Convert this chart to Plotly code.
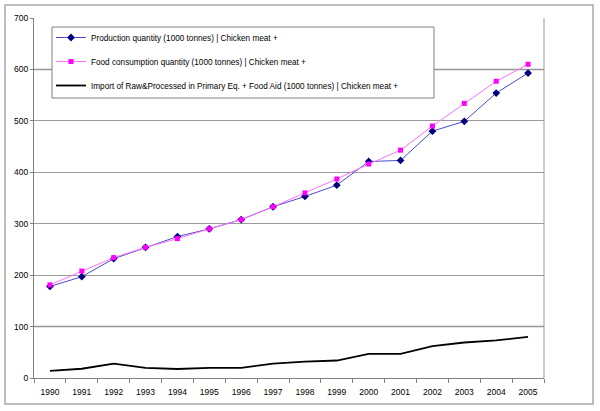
import plotly.graph_objects as go

years = [str(y) for y in range(1990, 2006)]
production = [178, 197, 232, 254, 275, 290, 308, 333, 353, 375, 421, 423, 480, 499, 554, 593]
food = [181, 208, 234, 254, 271, 290, 308, 333, 360, 387, 416, 443, 490, 534, 577, 610]
imports = [14, 18, 28, 19.5, 17.5, 19.5, 19.5, 28, 32, 34, 47, 47, 62, 69, 73, 80]

names = [
    "Production quantity (1000 tonnes) | Chicken meat +",
    "Food consumption quantity (1000 tonnes) | Chicken meat +",
    "Import of Raw&Processed in Primary Eq. + Food Aid (1000 tonnes) | Chicken meat +",
]

fig = go.Figure()
fig.add_trace(go.Scatter(x=years, y=production, name=names[0], mode="lines+markers",
                         legendgroup="a",
                         line=dict(color="#4a4acc", width=1),
                         marker=dict(symbol="diamond", size=6, color="#000080")))
fig.add_trace(go.Scatter(x=years, y=food, name=names[1], mode="lines+markers",
                         legendgroup="b",
                         line=dict(color="#ff70ff", width=1),
                         marker=dict(symbol="square", size=5, color="#ff00ff")))
fig.add_trace(go.Scatter(x=years, y=imports, name=names[2], mode="lines",
                         legendgroup="c",
                         line=dict(color="#000000", width=1.8)))

PW, PH = 510, 360  # plot area size in px

# lighter emphasised gridlines (as in the original rendering)
for yv in [100, 600]:
    fig.add_shape(type="line", xref="paper", yref="y", x0=0, x1=1, y0=yv, y1=yv,
                  line=dict(color="#c8c8c8", width=2), layer="below")

# legend box
fig.add_shape(type="rect", xref="paper", yref="paper",
              x0=18 / PW, x1=400 / PW, y0=1 - 80 / PH, y1=1 - 9 / PH,
              line=dict(color="#808080", width=1), fillcolor="white", layer="above")

# outer frame
fig.add_shape(type="rect", xref="paper", yref="paper",
              x0=-29 / PW, x1=49 / PW + 1, y0=-26 / PH, y1=1 + 13 / PH,
              line=dict(color="#a8a8a8", width=1.5))

fig.update_layout(
    width=600, height=411,
    margin=dict(l=34, r=56, t=18, b=33, autoexpand=False),
    paper_bgcolor="white", plot_bgcolor="white",
    font=dict(family="Liberation Sans, Arial, sans-serif", size=8.5, color="#000000"),
    showlegend=True,
    legend=dict(x=17 / PW, y=1 - 5 / PH, xanchor="left", yanchor="top",
                borderwidth=0, bgcolor="rgba(0,0,0,0)",
                font=dict(size=8.2), traceorder="grouped", tracegroupgap=5,
                itemwidth=30),
    xaxis=dict(type="category", range=[-0.5, 15.5], showgrid=False, automargin=False,
               showline=True, linecolor="#808080", linewidth=1,
               ticks="outside", tickson="boundaries", ticklen=4, tickcolor="#808080",
               ticklabelstandoff=6, tickfont=dict(size=8.5)),
    yaxis=dict(range=[0, 700], tickvals=[0, 100, 200, 300, 400, 500, 600, 700],
               showgrid=True, gridcolor="#9a9a9a", gridwidth=1, automargin=False,
               showline=True, linecolor="#808080", linewidth=1,
               ticks="outside", ticklen=3, tickcolor="#808080",
               tickfont=dict(size=8.5), zeroline=False),
)
# right plot-area border
fig.add_shape(type="line", xref="paper", yref="paper", x0=1, x1=1, y0=0, y1=1,
              line=dict(color="#9a9a9a", width=1))

fig.write_html("out.html", config={"displayModeBar": False},
               post_script="document.body.style.margin='0';")
